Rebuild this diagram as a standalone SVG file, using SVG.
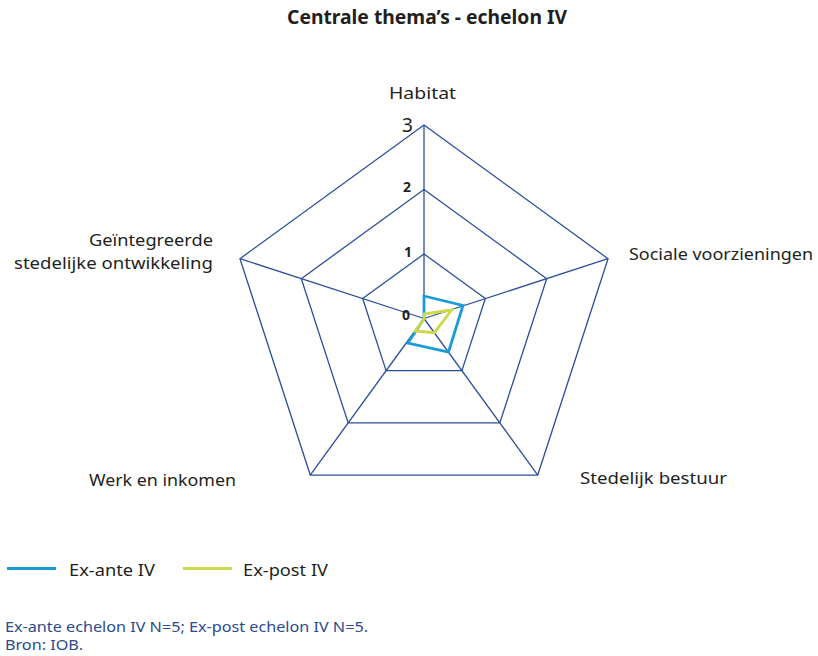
<svg xmlns="http://www.w3.org/2000/svg" width="818" height="656" viewBox="0 0 818 656">
<style>
text{font-family:"Noto Sans","Open Sans","Liberation Sans",sans-serif;fill:#231f20}
.t{font-size:19px;font-weight:bold}
.lab{font-size:17px}
.num{font-size:14px;font-weight:bold}
.grid{fill:none;stroke:#2b4f9c;stroke-width:1.3}
.exa{fill:none;stroke:#1b9bd7;stroke-width:2.8;stroke-linejoin:miter}
.exp{fill:none;stroke:#cdd94a;stroke-width:2.8;stroke-linejoin:miter}
.foot{font-size:13.5px;fill:#2b4a8e}
</style>
<rect width="818" height="656" fill="#fff"/>
<text class="t" x="287" y="24" textLength="280" lengthAdjust="spacingAndGlyphs">Centrale thema’s - echelon IV</text>
<g id="grid">
<polygon class="grid" points="424,254 485.35,298.57 461.91,370.68 386.09,370.68 362.65,298.57"/>
<polygon class="grid" points="424,189.5 546.69,278.64 499.83,422.86 348.17,422.86 301.31,278.64"/>
<polygon class="grid" points="424,125 608.04,258.71 537.74,475.04 310.26,475.04 239.96,258.71"/>
</g>
<g id="connectors">
<line class="grid" x1="424" y1="318.5" x2="424" y2="125"/>
<line class="grid" x1="424" y1="318.5" x2="608.04" y2="258.71"/>
<line class="grid" x1="424" y1="318.5" x2="537.74" y2="475.04"/>
<line class="grid" x1="424" y1="318.5" x2="310.26" y2="475.04"/>
<line class="grid" x1="424" y1="318.5" x2="239.96" y2="258.71"/>
</g>
<g id="scale">
<text x="402" y="132" style="font-size:19px">3</text>
<text class="num" x="403" y="192">2</text>
<text class="num" x="404" y="257">1</text>
<text x="402" y="320" style="font-size:14px;font-weight:bold">0</text>
</g>
<g id="series-exante"><polygon class="exa" points="424,296 463,305.5 448.5,352 408,343 424,318.5"/></g>
<g id="series-expost"><polygon class="exp" points="424.3,314 451.7,310 434.3,332.7 415,331 424,319"/></g>
<g id="axis-habitat"><text class="lab" x="389" y="99" textLength="67" lengthAdjust="spacingAndGlyphs">Habitat</text></g>
<g id="axis-sociale"><text class="lab" x="629" y="260" textLength="184" lengthAdjust="spacingAndGlyphs">Sociale voorzieningen</text></g>
<g id="axis-bestuur"><text class="lab" x="580" y="484" textLength="147" lengthAdjust="spacingAndGlyphs">Stedelijk bestuur</text></g>
<g id="axis-werk"><text class="lab" x="89" y="486" textLength="147" lengthAdjust="spacingAndGlyphs">Werk en inkomen</text></g>
<g id="axis-geintegreerde">
<text class="lab" x="89" y="246" textLength="124" lengthAdjust="spacingAndGlyphs">Geïntegreerde</text>
<text class="lab" x="14" y="269" textLength="199" lengthAdjust="spacingAndGlyphs">stedelijke ontwikkeling</text>
</g>
<g id="legend">
<line x1="7" y1="568.5" x2="56" y2="568.5" stroke="#1b9bd7" stroke-width="2.8"/>
<text class="lab" x="69" y="576" textLength="86" lengthAdjust="spacingAndGlyphs">Ex-ante IV</text>
<line x1="183" y1="568.5" x2="232" y2="568.5" stroke="#cdd94a" stroke-width="2.8"/>
<text class="lab" x="243" y="576" textLength="85" lengthAdjust="spacingAndGlyphs">Ex-post IV</text>
</g>
<g id="footer">
<text class="foot" x="5" y="632" textLength="363" lengthAdjust="spacingAndGlyphs">Ex-ante echelon IV N=5; Ex-post echelon IV N=5.</text>
<text class="foot" x="5" y="650" textLength="78" lengthAdjust="spacingAndGlyphs">Bron: IOB.</text>
</g>
</svg>
